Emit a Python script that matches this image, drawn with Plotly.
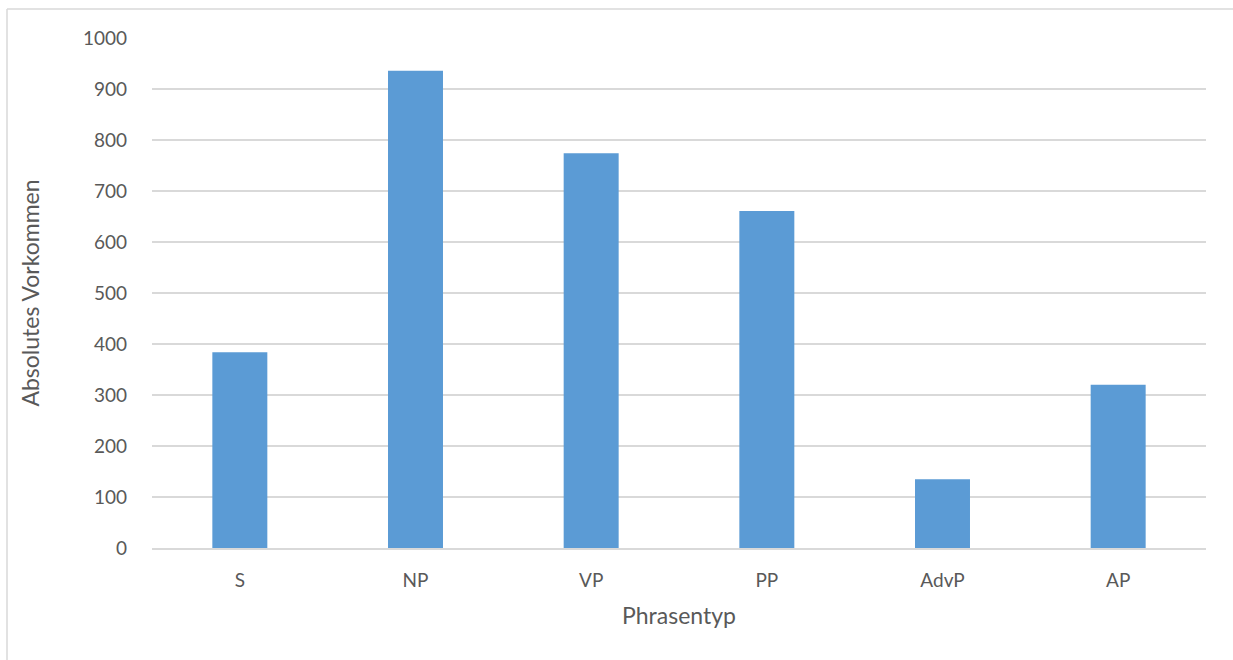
import plotly.graph_objects as go

categories = ["S", "NP", "VP", "PP", "AdvP", "AP"]
values = [384, 936, 774, 661, 135, 320]
y_ticks = [0, 100, 200, 300, 400, 500, 600, 700, 800, 900, 1000]

TXT = "#595959"
FONT = "Lato"

fig = go.Figure(go.Bar(
    x=categories, y=values,
    marker=dict(color="#5B9BD5", line=dict(width=0)),
    width=0.313,
))

L, R, T, B = 152, 27, 38, 112
W, H = 1233, 660
pw, ph = W - L - R, H - T - B

def px_x(p):
    return (p - L) / pw

def px_y(p):
    return (H - B - p) / ph

fig.update_layout(
    width=W, height=H,
    margin=dict(l=L, r=R, t=T, b=B, pad=0),
    paper_bgcolor="white", plot_bgcolor="white",
    font=dict(family=FONT, color=TXT, size=19),
    showlegend=False,
    xaxis=dict(
        title=dict(text="Phrasentyp", font=dict(size=23, color=TXT, family=FONT), standoff=18),
        showgrid=False, showline=True, linecolor="#D9D9D9", linewidth=1.5,
        ticks="", tickfont=dict(size=19, color=TXT), ticklabelstandoff=14,
    ),
    yaxis=dict(
        title=dict(text="Absolutes Vorkommen", font=dict(size=23, color=TXT, family=FONT), standoff=36),
        range=[0, 1000], tickvals=y_ticks, showgrid=True, gridcolor="#D9D9D9", gridwidth=1.5,
        zeroline=False, showline=False, ticks="", tickfont=dict(size=19, color=TXT),
        ticklabelstandoff=24,
    ),
    shapes=[
        dict(type="line", xref="paper", yref="paper", x0=px_x(7), x1=px_x(1240), y0=px_y(9), y1=px_y(9),
             line=dict(color="#D9D9D9", width=1.5)),
        dict(type="line", xref="paper", yref="paper", x0=px_x(7), x1=px_x(7), y0=px_y(9), y1=px_y(670),
             line=dict(color="#D9D9D9", width=1.5)),
    ],
)

fig.write_html("out.html")
